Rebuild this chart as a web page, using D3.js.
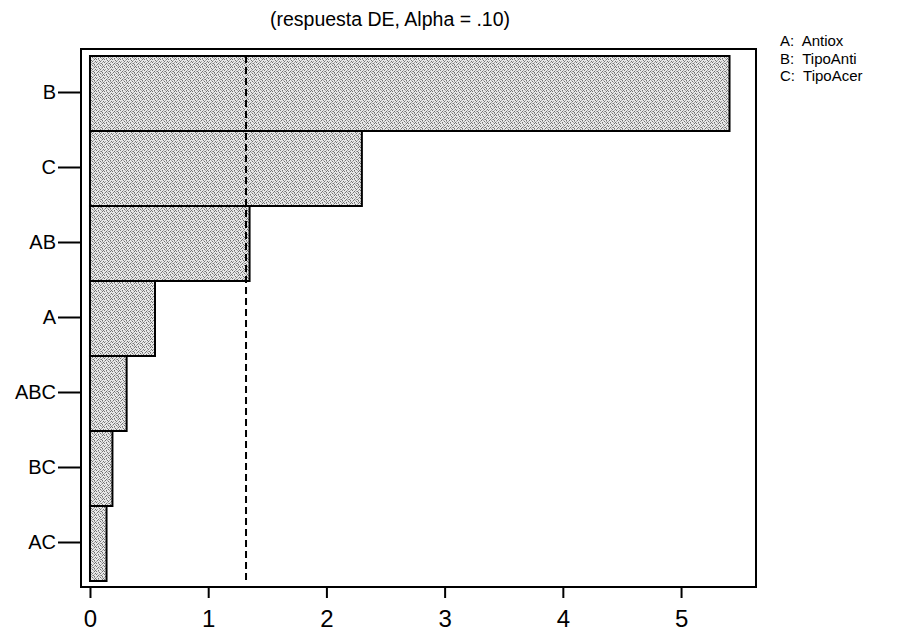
<!DOCTYPE html>
<html>
<head>
<meta charset="utf-8">
<script src="https://cdn.jsdelivr.net/npm/d3@7"></script>
<style>
  html, body { margin: 0; padding: 0; background: #fff; }
  svg { display: block; font-family: "Liberation Sans", Arial, sans-serif; }
</style>
</head>
<body>
<svg id="chart" width="906" height="633"></svg>
<script>
// Pareto chart of standardized effects
const terms = ["B", "C", "AB", "A", "ABC", "BC", "AC"];
const effects = [5.41, 2.30, 1.35, 0.55, 0.31, 0.19, 0.14];
const refLine = 1.32;
const xTicks = [0, 1, 2, 3, 4, 5];
const titleText = "(respuesta DE, Alpha = .10)";
const legendItems = ["A:  Antiox", "B:  TipoAnti", "C:  TipoAcer"];

const svg = d3.select("#chart");

const frame = { left: 81, right: 756, top: 49, bottom: 587 };

const x = d3.scaleLinear().domain([-0.076, 5.634]).range([frame.left, frame.right]);
const y = d3.scaleBand().domain(terms).range([56, 581]).padding(0);

// Speckled halftone fill for the bars
const defs = svg.append("defs");
const pat = defs.append("pattern")
  .attr("id", "dots")
  .attr("patternUnits", "userSpaceOnUse")
  .attr("width", 8).attr("height", 8);
const tile = [
  "LDLMLLDL",
  "MLLLDLML",
  "LLDLLMLD",
  "DLMLLLDL",
  "LLLDLMLL",
  "LMLLDLLD",
  "DLLMLLML",
  "LLDLMDLL"
];
const shade = { D: "#707070", M: "#a8a8a8", L: "#e8e8e8" };
tile.forEach((row, r) => {
  row.split("").forEach((c, k) => {
    pat.append("rect").attr("x", k).attr("y", r).attr("width", 1).attr("height", 1)
      .attr("fill", shade[c]).attr("shape-rendering", "crispEdges");
  });
});

// Title
svg.append("text")
  .attr("x", 390).attr("y", 26)
  .attr("text-anchor", "middle")
  .attr("font-size", 19.5)
  .text(titleText);

// Bars
svg.append("g").selectAll("rect")
  .data(terms.map((t, i) => ({ term: t, value: effects[i] })))
  .join("rect")
  .attr("x", x(0))
  .attr("y", d => y(d.term))
  .attr("width", d => x(d.value) - x(0))
  .attr("height", y.bandwidth())
  .attr("fill", "url(#dots)")
  .attr("stroke", "#000")
  .attr("stroke-width", 2);

// Reference line
svg.append("line")
  .attr("x1", x(refLine)).attr("x2", x(refLine))
  .attr("y1", y.range()[0]).attr("y2", y.range()[1])
  .attr("stroke", "#000")
  .attr("stroke-width", 2)
  .attr("stroke-dasharray", "7,4");

// Frame
svg.append("rect")
  .attr("x", frame.left).attr("y", frame.top)
  .attr("width", frame.right - frame.left)
  .attr("height", frame.bottom - frame.top)
  .attr("fill", "none")
  .attr("stroke", "#000")
  .attr("stroke-width", 2);

// Y axis (term labels)
const yAxis = d3.axisLeft(y).tickSize(23).tickPadding(2);
const gy = svg.append("g")
  .attr("transform", `translate(${frame.left},-1)`)
  .call(yAxis);
gy.select(".domain").remove();
gy.selectAll(".tick line").attr("stroke", "#000").attr("stroke-width", 2);
gy.selectAll(".tick text").attr("font-size", 20).attr("fill", "#000")
  .attr("font-family", "Liberation Sans, Arial, sans-serif");

// X axis
const xAxis = d3.axisBottom(x).tickValues(xTicks).tickSize(11).tickPadding(12)
  .tickFormat(d3.format("d"));
const gx = svg.append("g")
  .attr("transform", `translate(0,${frame.bottom})`)
  .call(xAxis);
gx.select(".domain").remove();
gx.selectAll(".tick line").attr("stroke", "#000").attr("stroke-width", 2);
gx.selectAll(".tick text").attr("font-size", 24).attr("fill", "#000")
  .attr("font-family", "Liberation Sans, Arial, sans-serif");

// Legend of factor names
svg.append("g").selectAll("text")
  .data(legendItems)
  .join("text")
  .attr("x", 780)
  .attr("y", (d, i) => 46 + i * 17.5)
  .attr("font-size", 15)
  .attr("xml:space", "preserve")
  .style("white-space", "pre")
  .text(d => d);
</script>
</body>
</html>
